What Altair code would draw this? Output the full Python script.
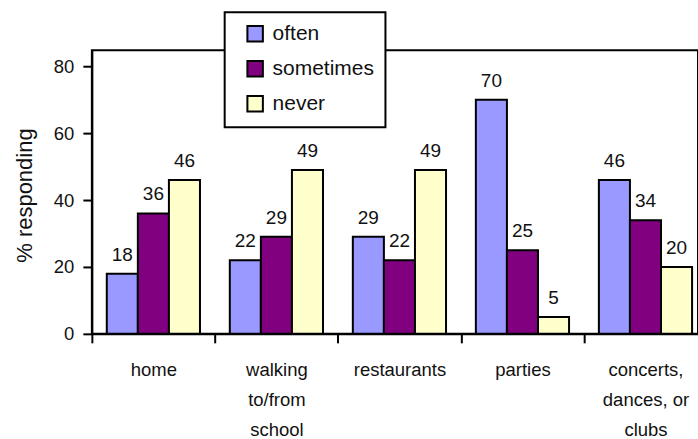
import altair as alt
import pandas as pd

# Survey: where respondents hear music, by frequency
categories = ["home", "walking\nto/from\nschool", "restaurants", "parties", "concerts,\ndances, or\nclubs"]
series = ["often", "sometimes", "never"]
often = [18, 22, 29, 70, 46]
sometimes = [36, 29, 22, 25, 34]
never = [46, 49, 49, 5, 20]
colors = ["#9999FF", "#800080", "#FFFFCC"]

FONT = "Liberation Sans"

rows = []
for name, vals in zip(series, [often, sometimes, never]):
    for cat, v in zip(categories, vals):
        rows.append({"place": cat, "frequency": name, "pct": v})
df = pd.DataFrame(rows)

x_enc = alt.X(
    "place:N",
    sort=categories,
    scale=alt.Scale(range=[0, 616], paddingInner=0, paddingOuter=0),
    axis=alt.Axis(
        title=None,
        labelAngle=0,
        tickBand="extent",
        labelExpr="split(datum.label, '\\n')",
        labelLineHeight=30,
        labelBaseline="top",
        labelFont=FONT,
        labelFontSize=18.5,
        labelColor="#111",
        labelPadding=18,
        tickSize=9,
        tickWidth=2,
        tickColor="black",
        domainColor="black",
        domainWidth=2,
    ),
)
xo_enc = alt.XOffset(
    "frequency:N", sort=series, scale=alt.Scale(paddingInner=0, paddingOuter=0.48)
)
y_enc = alt.Y(
    "pct:Q",
    scale=alt.Scale(domain=[0, 84.8], nice=False),
    axis=alt.Axis(
        values=[0, 20, 40, 60, 80],
        grid=False,
        title="% responding",
        titleFont=FONT,
        titleFontSize=22,
        titleFontWeight="normal",
        titleColor="#111",
        titleX=-67,
        titleY=145,
        titleAngle=270,
        titleBaseline="middle",
        labelFont=FONT,
        labelFontSize=18.5,
        labelColor="#111",
        labelPadding=9,
        tickSize=9,
        tickWidth=2,
        tickColor="black",
        domainColor="black",
        domainWidth=2,
    ),
)

bars = alt.Chart(df).mark_bar(stroke="black", strokeWidth=2).encode(
    x=x_enc,
    xOffset=xo_enc,
    y=y_enc,
    color=alt.Color(
        "frequency:N",
        sort=series,
        scale=alt.Scale(domain=series, range=colors),
        legend=alt.Legend(
            title=None,
            orient="none",
            legendX=133,
            legendY=-38,
            fillColor="white",
            strokeColor="black",
            padding=11,
            symbolType="square",
            symbolSize=240,
            symbolStrokeColor="black",
            symbolStrokeWidth=2,
            symbolOffset=9,
            labelFont=FONT,
            labelFontSize=21,
            labelColor="#111",
            labelOffset=7,
            rowPadding=10,
        ),
    ),
)

labels = alt.Chart(df).mark_text(
    baseline="alphabetic", dy=-13, font=FONT, fontSize=19, color="#111"
).encode(
    x=alt.X("place:N", sort=categories),
    xOffset=alt.XOffset("frequency:N", sort=series),
    y=alt.Y("pct:Q"),
    text="pct:Q",
)

chart = (
    alt.layer(bars, labels)
    .properties(
        width=607,
        height=284,
        autosize="none",
        padding={"left": 92, "top": 50, "right": 0, "bottom": 105},
        background="white",
    )
    .configure_view(stroke="black", strokeWidth=2)
    .configure_legend(strokeWidth=2)
)

chart.save("out.html", embed_options={"renderer": "svg", "actions": False})
